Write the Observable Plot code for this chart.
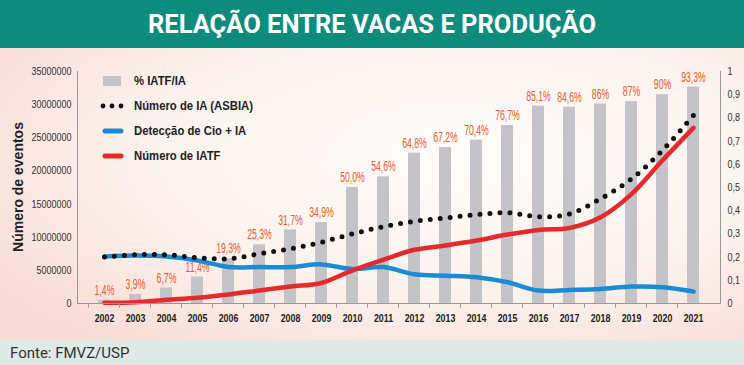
<!DOCTYPE html>
<html><head><meta charset="utf-8">
<script src="https://cdn.jsdelivr.net/npm/d3@7"></script>
<script src="https://cdn.jsdelivr.net/npm/@observablehq/plot@0.6"></script>
<style>
body{margin:0;width:744px;height:365px;overflow:hidden;font-family:Roboto,sans-serif;background:#fff}
#title{height:48px;background:#0f8b7d;color:#fff;font:700 25.5px Roboto,sans-serif;display:flex;align-items:center;justify-content:center;letter-spacing:0}
#chart{position:relative;height:292px;background:radial-gradient(ellipse 75% 80% at 62% 38%, #fefcfa 0%, #fcf3ee 55%, #f9dcd6 100%)}
#chart > svg{position:absolute;left:0;top:0}
#fonte{height:25px;background:#dfe9e5;font:400 15px Roboto,sans-serif;color:#333;padding-left:10px;line-height:27px}
#ylab{position:absolute;left:18px;top:139px;transform:translate(-50%,-50%) rotate(-90deg);font:700 14px "Liberation Sans",Arial,sans-serif;color:#222;white-space:nowrap}
#legend{position:absolute;left:100px;top:20px;font:700 13px "Liberation Sans",Arial,sans-serif;color:#222}
#legend div{height:25px;display:flex;align-items:center}
#legend svg{margin-right:10px}
#legend span{display:inline-block;transform:scaleX(0.87);transform-origin:left center;white-space:nowrap}
</style></head>
<body>
<div id="title">RELAÇÃO ENTRE VACAS E PRODUÇÃO</div>
<div id="chart"><div id="ylab">Número de eventos</div><div id="legend"></div></div>
<div id="fonte">Fonte: FMVZ/USP</div>
<script>
const years = ["2002","2003","2004","2005","2006","2007","2008","2009","2010","2011","2012","2013","2014","2015","2016","2017","2018","2019","2020","2021"];
const pctIATF = [1.4,3.9,6.7,11.4,19.3,25.3,31.7,34.9,50.0,54.6,64.8,67.2,70.4,76.7,85.1,84.6,86,87,90,93.3];
const pctLabels = ["1,4%","3,9%","6,7%","11,4%","19,3%","25,3%","31,7%","34,9%","50,0%","54,6%","64,8%","67,2%","70,4%","76,7%","85,1%","84,6%","86%","87%","90%","93,3%"];
const numeroIA = [7.0,7.35,7.35,6.9,6.75,7.5,8.25,9.25,10.5,11.6,12.4,12.9,13.4,13.7,13.1,13.5,15.8,18.8,23.1,28.4]; // millions
const cioIA = [7.1,7.25,7.1,6.5,5.5,5.5,5.5,5.9,5.2,5.5,4.4,4.2,3.95,3.2,1.95,2.05,2.2,2.55,2.45,1.8]; // millions
const numeroIATF = [0.1,0.2,0.55,0.86,1.36,1.96,2.56,3.1,5.0,6.6,8.1,8.75,9.5,10.4,11.1,11.4,13.0,16.5,21.6,26.5]; // millions
const yLeftTicks = [0,5000000,10000000,15000000,20000000,25000000,30000000,35000000];
const yRightTicks = ["0","0,1","0,2","0,3","0,4","0,5","0,6","0,7","0,8","0,9","1"];

const YMAX = 35000000;
const rows = years.map((y,i)=>({year:y, bar:pctIATF[i]/100*YMAX, label:pctLabels[i], ia:numeroIA[i]*1e6, cio:cioIA[i]*1e6, iatf:numeroIATF[i]*1e6}));
const rightTicks = yRightTicks.map((t,i)=>({v:i/10*YMAX, t}));

const font = '"Liberation Sans",Arial,sans-serif';
const plot = Plot.plot({
  width:744, height:292,
  marginTop:23, marginBottom:37, marginLeft:77, marginRight:24,
  style:{background:"transparent", fontFamily:font, fontSize:"11px", color:"#333", overflow:"visible"},
  x:{type:"band", domain:years, padding:0.6, align:0.5},
  y:{domain:[0,YMAX]},
  marks:[
    Plot.barY(rows,{x:"year", y:"bar", fill:"#c3c3c8"}),
    Plot.text(rows,{x:"year", y:"bar", text:"label", dy:-10, fill:"#f05a2c", fontSize:14.5, className:"pct"}),
    Plot.lineY(rows,{x:"year", y:"cio", stroke:"#1b8bd3", strokeWidth:4.5, curve:"catmull-rom"}),
    Plot.lineY(rows,{x:"year", y:"iatf", stroke:"#e52a2c", strokeWidth:4.5, curve:"catmull-rom"}),
    Plot.lineY(rows,{x:"year", y:"ia", stroke:"#111", strokeWidth:5, strokeDasharray:"0 10", strokeLinecap:"round", curve:"catmull-rom"}),
    Plot.ruleY([0],{stroke:"#999", strokeWidth:1}),
    Plot.frame({anchor:"left", stroke:"#999"}),
    Plot.frame({anchor:"right", stroke:"#999"}),
    Plot.ruleX(years,{x:d=>d, dx:-16, y1:0, y2:-700000, stroke:"#999"}),
    Plot.axisY({anchor:"left", ticks:yLeftTicks, tickFormat:d3.format("d"), tickSize:0, tickPadding:6, label:null, fontSize:11, fill:"#333", className:"yl"}),
    Plot.axisY({anchor:"right", ticks:rightTicks.map(d=>d.v), tickFormat:(d,i)=>rightTicks[i].t, tickSize:0, tickPadding:7, label:null, fontSize:11, fill:"#333", className:"yr"}),
    Plot.axisX({tickSize:0, tickPadding:11, label:null, fontSize:11, fontWeight:"bold", fill:"#222", className:"xl"})
  ]
});
document.getElementById("chart").appendChild(plot);

// condense texts (narrow typeface look) with a horizontal scale about each text's anchor
function condense(sel, f){
  plot.querySelectorAll(sel).forEach(t=>{
    const tr = t.getAttribute("transform");
    if (tr) {
      t.setAttribute("transform", tr + ` scale(${f},1)`);
    } else {
      const x = +(t.getAttribute("x") || 0);
      t.setAttribute("transform", `translate(${x},0) scale(${f},1) translate(${-x},0)`);
    }
  });
}
condense(".pct text", 0.6);
condense(".yl text", 0.82);
condense(".yr text", 0.82);
condense(".xl text", 0.8);

// legend
const leg = document.getElementById("legend");
const items = [
  {label:"% IATF/IA", sw:'<rect x="3" y="2" width="18" height="10" fill="#c3c3c8"/>'},
  {label:"Número de IA (ASBIA)", sw:'<g fill="#111"><circle cx="3" cy="7" r="2.4"/><circle cx="12" cy="7" r="2.4"/><circle cx="21" cy="7" r="2.4"/></g>'},
  {label:"Detecção de Cio + IA", sw:'<line x1="5" x2="21" y1="7" y2="7" stroke="#1b8bd3" stroke-width="5" stroke-linecap="round"/>'},
  {label:"Número de IATF", sw:'<line x1="5" x2="21" y1="7" y2="7" stroke="#e52a2c" stroke-width="5" stroke-linecap="round"/>'}
];
items.forEach(it=>{
  const d=document.createElement("div");
  d.innerHTML=`<svg width="24" height="14">${it.sw}</svg><span>${it.label}</span>`;
  leg.appendChild(d);
});
</script>
</body></html>
